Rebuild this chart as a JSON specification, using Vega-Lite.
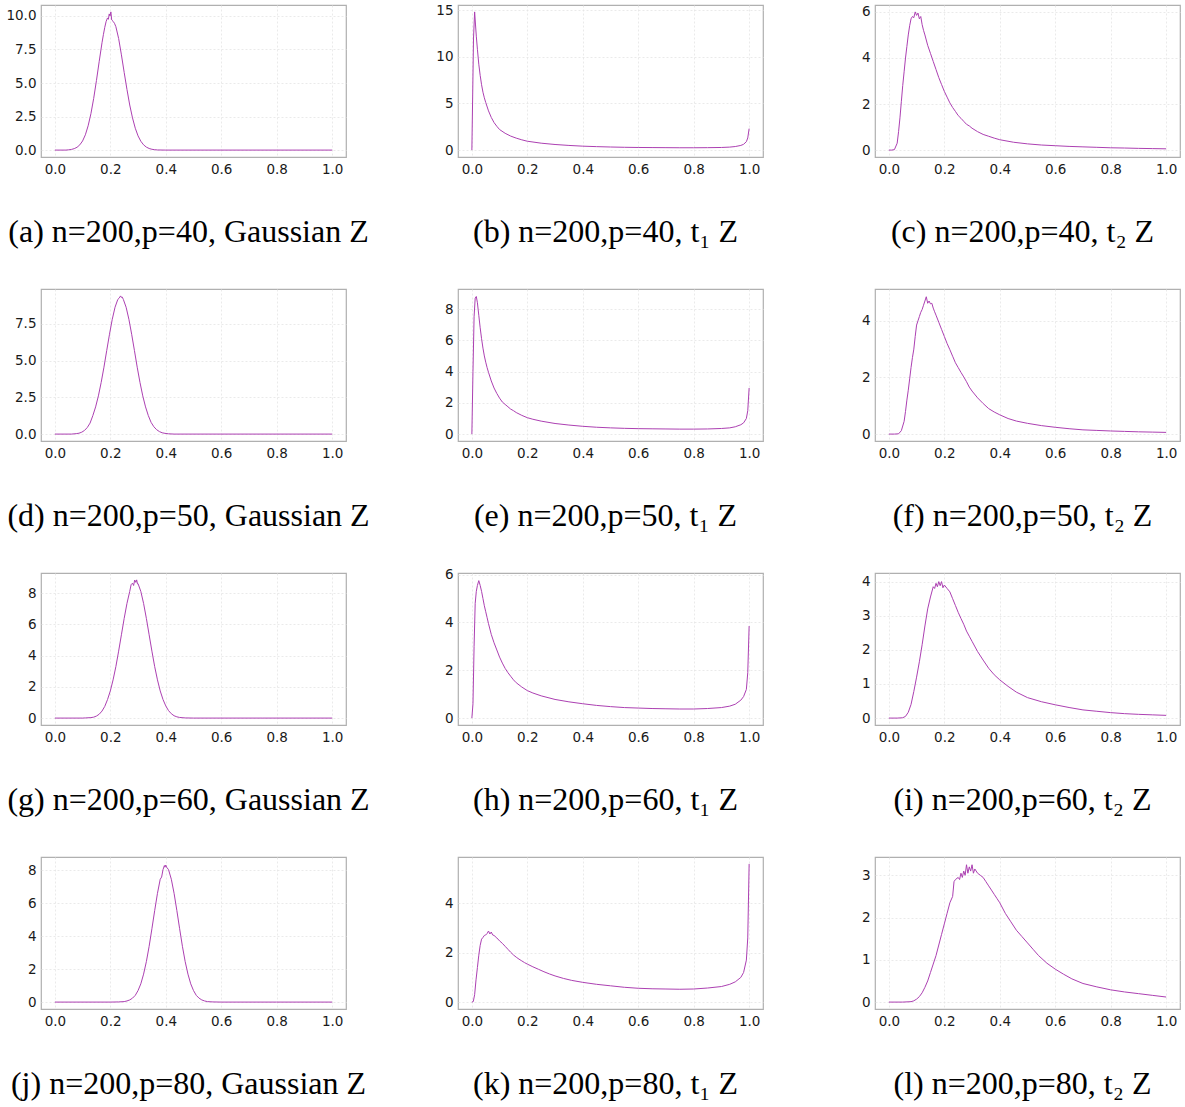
{
 "$schema": "https://vega.github.io/schema/vega-lite/v6.json",
 "background": "white",
 "padding": {"left": 5, "top": 2, "right": 0, "bottom": 0},
 "autosize": {"type": "pad"},
 "config": {
  "view": {"stroke": "#b0b0b0", "strokeWidth": 1.2},
  "axis": {"grid": true, "gridColor": "#e4e4e4", "gridDash": [2, 2], "gridWidth": 0.8, "ticks": false, "domain": false, "labelFont": "DejaVu Sans", "labelFontSize": 13.5, "labelColor": "#1a1a1a", "labelPadding": 5, "title": null},
  "axisX": {"labelFlush": false},
  "title": {"orient": "bottom", "anchor": "middle", "frame": "group", "font": "Liberation Serif", "fontSize": 32, "fontWeight": "normal", "color": "#000000", "offset": 41, "dx": -5},
  "line": {"color": "#ac40b2", "strokeWidth": 1}
 },
 "data": {"values": [
  {"p":"a","x":0,"y":0},{"p":"a","x":0.04,"y":0},{"p":"a","x":0.05,"y":0.02},{"p":"a","x":0.06,"y":0.05},{"p":"a","x":0.07,"y":0.11},{"p":"a","x":0.08,"y":0.21},{"p":"a","x":0.09,"y":0.39},{"p":"a","x":0.1,"y":0.68},{"p":"a","x":0.11,"y":1.14},{"p":"a","x":0.12,"y":1.81},{"p":"a","x":0.13,"y":2.71},{"p":"a","x":0.14,"y":3.85},{"p":"a","x":0.15,"y":5.19},{"p":"a","x":0.16,"y":6.62},{"p":"a","x":0.17,"y":8.0},{"p":"a","x":0.175,"y":8.6},{"p":"a","x":0.18,"y":9.15},{"p":"a","x":0.185,"y":9.6},{"p":"a","x":0.19,"y":9.85},{"p":"a","x":0.193,"y":9.75},{"p":"a","x":0.196,"y":10.15},{"p":"a","x":0.199,"y":10.0},{"p":"a","x":0.202,"y":10.3},{"p":"a","x":0.205,"y":9.7},{"p":"a","x":0.21,"y":9.6},{"p":"a","x":0.215,"y":9.45},{"p":"a","x":0.22,"y":9.2},{"p":"a","x":0.23,"y":8.32},{"p":"a","x":0.24,"y":7.1},{"p":"a","x":0.25,"y":5.79},{"p":"a","x":0.26,"y":4.52},{"p":"a","x":0.27,"y":3.36},{"p":"a","x":0.28,"y":2.4},{"p":"a","x":0.29,"y":1.63},{"p":"a","x":0.3,"y":1.06},{"p":"a","x":0.31,"y":0.66},{"p":"a","x":0.32,"y":0.39},{"p":"a","x":0.33,"y":0.22},{"p":"a","x":0.34,"y":0.12},{"p":"a","x":0.35,"y":0.06},{"p":"a","x":0.36,"y":0.03},{"p":"a","x":0.37,"y":0.01},{"p":"a","x":0.4,"y":0},{"p":"a","x":0.7,"y":0},{"p":"a","x":1.0,"y":0},

  {"p":"b","x":0,"y":0},{"p":"b","x":0.003,"y":6},{"p":"b","x":0.006,"y":12},{"p":"b","x":0.01,"y":14.8},{"p":"b","x":0.013,"y":13.5},{"p":"b","x":0.016,"y":12.2},{"p":"b","x":0.02,"y":10.8},{"p":"b","x":0.025,"y":9.2},{"p":"b","x":0.03,"y":8.0},{"p":"b","x":0.035,"y":7.0},{"p":"b","x":0.04,"y":6.2},{"p":"b","x":0.045,"y":5.6},{"p":"b","x":0.05,"y":5.1},{"p":"b","x":0.06,"y":4.2},{"p":"b","x":0.07,"y":3.5},{"p":"b","x":0.08,"y":2.95},{"p":"b","x":0.09,"y":2.55},{"p":"b","x":0.1,"y":2.2},{"p":"b","x":0.12,"y":1.8},{"p":"b","x":0.14,"y":1.5},{"p":"b","x":0.16,"y":1.28},{"p":"b","x":0.18,"y":1.1},{"p":"b","x":0.2,"y":0.95},{"p":"b","x":0.25,"y":0.74},{"p":"b","x":0.3,"y":0.6},{"p":"b","x":0.35,"y":0.5},{"p":"b","x":0.4,"y":0.42},{"p":"b","x":0.45,"y":0.37},{"p":"b","x":0.5,"y":0.33},{"p":"b","x":0.55,"y":0.3},{"p":"b","x":0.6,"y":0.28},{"p":"b","x":0.65,"y":0.27},{"p":"b","x":0.7,"y":0.26},{"p":"b","x":0.75,"y":0.25},{"p":"b","x":0.8,"y":0.25},{"p":"b","x":0.85,"y":0.26},{"p":"b","x":0.9,"y":0.28},{"p":"b","x":0.93,"y":0.32},{"p":"b","x":0.95,"y":0.38},{"p":"b","x":0.97,"y":0.5},{"p":"b","x":0.98,"y":0.62},{"p":"b","x":0.99,"y":0.9},{"p":"b","x":0.995,"y":1.3},{"p":"b","x":1.0,"y":2.3},

  {"p":"c","x":0,"y":0},{"p":"c","x":0.01,"y":0},{"p":"c","x":0.02,"y":0.02},{"p":"c","x":0.03,"y":0.3},{"p":"c","x":0.035,"y":0.8},{"p":"c","x":0.04,"y":1.4},{"p":"c","x":0.045,"y":2.1},{"p":"c","x":0.05,"y":2.8},{"p":"c","x":0.055,"y":3.4},{"p":"c","x":0.06,"y":4.0},{"p":"c","x":0.065,"y":4.5},{"p":"c","x":0.07,"y":5.0},{"p":"c","x":0.075,"y":5.4},{"p":"c","x":0.08,"y":5.7},{"p":"c","x":0.085,"y":5.8},{"p":"c","x":0.09,"y":5.75},{"p":"c","x":0.095,"y":6.0},{"p":"c","x":0.1,"y":5.85},{"p":"c","x":0.105,"y":5.95},{"p":"c","x":0.11,"y":5.7},{"p":"c","x":0.115,"y":5.8},{"p":"c","x":0.12,"y":5.45},{"p":"c","x":0.125,"y":5.2},{"p":"c","x":0.13,"y":5.0},{"p":"c","x":0.14,"y":4.55},{"p":"c","x":0.15,"y":4.2},{"p":"c","x":0.16,"y":3.85},{"p":"c","x":0.17,"y":3.5},{"p":"c","x":0.18,"y":3.15},{"p":"c","x":0.19,"y":2.85},{"p":"c","x":0.2,"y":2.55},{"p":"c","x":0.21,"y":2.3},{"p":"c","x":0.22,"y":2.05},{"p":"c","x":0.23,"y":1.85},{"p":"c","x":0.24,"y":1.68},{"p":"c","x":0.25,"y":1.5},{"p":"c","x":0.26,"y":1.38},{"p":"c","x":0.27,"y":1.25},{"p":"c","x":0.28,"y":1.12},{"p":"c","x":0.29,"y":1.05},{"p":"c","x":0.3,"y":0.95},{"p":"c","x":0.32,"y":0.8},{"p":"c","x":0.34,"y":0.68},{"p":"c","x":0.36,"y":0.6},{"p":"c","x":0.38,"y":0.52},{"p":"c","x":0.4,"y":0.45},{"p":"c","x":0.45,"y":0.34},{"p":"c","x":0.5,"y":0.27},{"p":"c","x":0.55,"y":0.22},{"p":"c","x":0.6,"y":0.19},{"p":"c","x":0.65,"y":0.16},{"p":"c","x":0.7,"y":0.14},{"p":"c","x":0.75,"y":0.12},{"p":"c","x":0.8,"y":0.1},{"p":"c","x":0.85,"y":0.09},{"p":"c","x":0.9,"y":0.075},{"p":"c","x":0.95,"y":0.065},{"p":"c","x":1.0,"y":0.055},

  {"p":"d","x":0,"y":0},{"p":"d","x":0.06,"y":0},{"p":"d","x":0.077,"y":0.03},{"p":"d","x":0.087,"y":0.06},{"p":"d","x":0.097,"y":0.13},{"p":"d","x":0.107,"y":0.25},{"p":"d","x":0.117,"y":0.45},{"p":"d","x":0.127,"y":0.75},{"p":"d","x":0.137,"y":1.26},{"p":"d","x":0.147,"y":1.85},{"p":"d","x":0.157,"y":2.6},{"p":"d","x":0.167,"y":3.51},{"p":"d","x":0.177,"y":4.55},{"p":"d","x":0.187,"y":5.68},{"p":"d","x":0.197,"y":6.79},{"p":"d","x":0.207,"y":7.81},{"p":"d","x":0.217,"y":8.63},{"p":"d","x":0.227,"y":9.16},{"p":"d","x":0.232,"y":9.25},{"p":"d","x":0.237,"y":9.4},{"p":"d","x":0.24,"y":9.3},{"p":"d","x":0.243,"y":9.32},{"p":"d","x":0.247,"y":9.16},{"p":"d","x":0.257,"y":8.63},{"p":"d","x":0.267,"y":7.81},{"p":"d","x":0.277,"y":6.79},{"p":"d","x":0.287,"y":5.68},{"p":"d","x":0.297,"y":4.55},{"p":"d","x":0.307,"y":3.51},{"p":"d","x":0.317,"y":2.6},{"p":"d","x":0.327,"y":1.85},{"p":"d","x":0.337,"y":1.26},{"p":"d","x":0.347,"y":0.8},{"p":"d","x":0.357,"y":0.5},{"p":"d","x":0.367,"y":0.3},{"p":"d","x":0.377,"y":0.17},{"p":"d","x":0.387,"y":0.09},{"p":"d","x":0.397,"y":0.05},{"p":"d","x":0.41,"y":0.02},{"p":"d","x":0.43,"y":0},{"p":"d","x":0.7,"y":0},{"p":"d","x":1.0,"y":0},

  {"p":"e","x":0,"y":0},{"p":"e","x":0.004,"y":4},{"p":"e","x":0.008,"y":7.5},{"p":"e","x":0.012,"y":8.7},{"p":"e","x":0.016,"y":8.8},{"p":"e","x":0.02,"y":8.4},{"p":"e","x":0.025,"y":7.6},{"p":"e","x":0.03,"y":6.8},{"p":"e","x":0.035,"y":6.1},{"p":"e","x":0.04,"y":5.5},{"p":"e","x":0.045,"y":5.0},{"p":"e","x":0.05,"y":4.6},{"p":"e","x":0.055,"y":4.25},{"p":"e","x":0.06,"y":3.95},{"p":"e","x":0.07,"y":3.4},{"p":"e","x":0.08,"y":2.95},{"p":"e","x":0.09,"y":2.6},{"p":"e","x":0.1,"y":2.3},{"p":"e","x":0.11,"y":2.05},{"p":"e","x":0.12,"y":1.9},{"p":"e","x":0.13,"y":1.75},{"p":"e","x":0.14,"y":1.6},{"p":"e","x":0.15,"y":1.5},{"p":"e","x":0.16,"y":1.38},{"p":"e","x":0.18,"y":1.2},{"p":"e","x":0.2,"y":1.05},{"p":"e","x":0.22,"y":0.95},{"p":"e","x":0.25,"y":0.83},{"p":"e","x":0.3,"y":0.68},{"p":"e","x":0.35,"y":0.58},{"p":"e","x":0.4,"y":0.5},{"p":"e","x":0.45,"y":0.44},{"p":"e","x":0.5,"y":0.4},{"p":"e","x":0.55,"y":0.37},{"p":"e","x":0.6,"y":0.35},{"p":"e","x":0.65,"y":0.34},{"p":"e","x":0.7,"y":0.33},{"p":"e","x":0.75,"y":0.32},{"p":"e","x":0.8,"y":0.32},{"p":"e","x":0.85,"y":0.33},{"p":"e","x":0.9,"y":0.36},{"p":"e","x":0.93,"y":0.4},{"p":"e","x":0.95,"y":0.47},{"p":"e","x":0.97,"y":0.6},{"p":"e","x":0.98,"y":0.72},{"p":"e","x":0.99,"y":1.0},{"p":"e","x":0.995,"y":1.5},{"p":"e","x":1.0,"y":2.95},

  {"p":"f","x":0,"y":0},{"p":"f","x":0.02,"y":0},{"p":"f","x":0.035,"y":0.01},{"p":"f","x":0.045,"y":0.12},{"p":"f","x":0.055,"y":0.45},{"p":"f","x":0.06,"y":0.8},{"p":"f","x":0.065,"y":1.2},{"p":"f","x":0.07,"y":1.55},{"p":"f","x":0.075,"y":1.95},{"p":"f","x":0.08,"y":2.35},{"p":"f","x":0.085,"y":2.7},{"p":"f","x":0.09,"y":3.0},{"p":"f","x":0.095,"y":3.45},{"p":"f","x":0.1,"y":3.85},{"p":"f","x":0.105,"y":4.0},{"p":"f","x":0.11,"y":4.15},{"p":"f","x":0.115,"y":4.3},{"p":"f","x":0.12,"y":4.4},{"p":"f","x":0.125,"y":4.55},{"p":"f","x":0.13,"y":4.7},{"p":"f","x":0.135,"y":4.85},{"p":"f","x":0.14,"y":4.62},{"p":"f","x":0.145,"y":4.7},{"p":"f","x":0.15,"y":4.6},{"p":"f","x":0.155,"y":4.62},{"p":"f","x":0.16,"y":4.45},{"p":"f","x":0.165,"y":4.32},{"p":"f","x":0.17,"y":4.2},{"p":"f","x":0.18,"y":3.95},{"p":"f","x":0.19,"y":3.7},{"p":"f","x":0.2,"y":3.45},{"p":"f","x":0.21,"y":3.2},{"p":"f","x":0.22,"y":2.98},{"p":"f","x":0.23,"y":2.75},{"p":"f","x":0.24,"y":2.52},{"p":"f","x":0.25,"y":2.35},{"p":"f","x":0.26,"y":2.18},{"p":"f","x":0.27,"y":2.02},{"p":"f","x":0.28,"y":1.85},{"p":"f","x":0.29,"y":1.66},{"p":"f","x":0.3,"y":1.52},{"p":"f","x":0.32,"y":1.28},{"p":"f","x":0.34,"y":1.08},{"p":"f","x":0.36,"y":0.9},{"p":"f","x":0.38,"y":0.78},{"p":"f","x":0.4,"y":0.68},{"p":"f","x":0.43,"y":0.55},{"p":"f","x":0.46,"y":0.46},{"p":"f","x":0.5,"y":0.38},{"p":"f","x":0.55,"y":0.3},{"p":"f","x":0.6,"y":0.24},{"p":"f","x":0.65,"y":0.19},{"p":"f","x":0.7,"y":0.15},{"p":"f","x":0.75,"y":0.13},{"p":"f","x":0.8,"y":0.11},{"p":"f","x":0.85,"y":0.095},{"p":"f","x":0.9,"y":0.08},{"p":"f","x":0.95,"y":0.07},{"p":"f","x":1.0,"y":0.06},

  {"p":"g","x":0,"y":0},{"p":"g","x":0.1,"y":0},{"p":"g","x":0.11,"y":0.01},{"p":"g","x":0.13,"y":0.03},{"p":"g","x":0.14,"y":0.06},{"p":"g","x":0.15,"y":0.13},{"p":"g","x":0.16,"y":0.25},{"p":"g","x":0.17,"y":0.45},{"p":"g","x":0.18,"y":0.75},{"p":"g","x":0.19,"y":1.19},{"p":"g","x":0.2,"y":1.74},{"p":"g","x":0.21,"y":2.45},{"p":"g","x":0.22,"y":3.3},{"p":"g","x":0.23,"y":4.29},{"p":"g","x":0.24,"y":5.34},{"p":"g","x":0.25,"y":6.39},{"p":"g","x":0.26,"y":7.35},{"p":"g","x":0.27,"y":8.12},{"p":"g","x":0.275,"y":8.55},{"p":"g","x":0.28,"y":8.65},{"p":"g","x":0.284,"y":8.5},{"p":"g","x":0.288,"y":8.85},{"p":"g","x":0.292,"y":8.7},{"p":"g","x":0.295,"y":8.86},{"p":"g","x":0.298,"y":8.6},{"p":"g","x":0.3,"y":8.62},{"p":"g","x":0.31,"y":8.12},{"p":"g","x":0.32,"y":7.35},{"p":"g","x":0.33,"y":6.39},{"p":"g","x":0.34,"y":5.34},{"p":"g","x":0.35,"y":4.29},{"p":"g","x":0.36,"y":3.3},{"p":"g","x":0.37,"y":2.45},{"p":"g","x":0.38,"y":1.74},{"p":"g","x":0.39,"y":1.19},{"p":"g","x":0.4,"y":0.78},{"p":"g","x":0.41,"y":0.48},{"p":"g","x":0.42,"y":0.28},{"p":"g","x":0.43,"y":0.15},{"p":"g","x":0.44,"y":0.08},{"p":"g","x":0.45,"y":0.04},{"p":"g","x":0.47,"y":0.01},{"p":"g","x":0.5,"y":0},{"p":"g","x":0.75,"y":0},{"p":"g","x":1.0,"y":0},

  {"p":"h","x":0,"y":0},{"p":"h","x":0.004,"y":0.6},{"p":"h","x":0.008,"y":3.0},{"p":"h","x":0.012,"y":4.8},{"p":"h","x":0.016,"y":5.3},{"p":"h","x":0.02,"y":5.55},{"p":"h","x":0.025,"y":5.75},{"p":"h","x":0.03,"y":5.55},{"p":"h","x":0.035,"y":5.3},{"p":"h","x":0.04,"y":5.0},{"p":"h","x":0.045,"y":4.7},{"p":"h","x":0.05,"y":4.45},{"p":"h","x":0.055,"y":4.2},{"p":"h","x":0.06,"y":3.95},{"p":"h","x":0.07,"y":3.5},{"p":"h","x":0.08,"y":3.15},{"p":"h","x":0.09,"y":2.85},{"p":"h","x":0.1,"y":2.55},{"p":"h","x":0.11,"y":2.3},{"p":"h","x":0.12,"y":2.08},{"p":"h","x":0.13,"y":1.9},{"p":"h","x":0.14,"y":1.75},{"p":"h","x":0.15,"y":1.6},{"p":"h","x":0.16,"y":1.48},{"p":"h","x":0.18,"y":1.3},{"p":"h","x":0.2,"y":1.15},{"p":"h","x":0.22,"y":1.05},{"p":"h","x":0.25,"y":0.93},{"p":"h","x":0.3,"y":0.78},{"p":"h","x":0.35,"y":0.68},{"p":"h","x":0.4,"y":0.6},{"p":"h","x":0.45,"y":0.53},{"p":"h","x":0.5,"y":0.48},{"p":"h","x":0.55,"y":0.44},{"p":"h","x":0.6,"y":0.42},{"p":"h","x":0.65,"y":0.4},{"p":"h","x":0.7,"y":0.39},{"p":"h","x":0.75,"y":0.38},{"p":"h","x":0.8,"y":0.38},{"p":"h","x":0.85,"y":0.4},{"p":"h","x":0.9,"y":0.44},{"p":"h","x":0.93,"y":0.5},{"p":"h","x":0.95,"y":0.58},{"p":"h","x":0.97,"y":0.75},{"p":"h","x":0.98,"y":0.9},{"p":"h","x":0.99,"y":1.2},{"p":"h","x":0.995,"y":1.9},{"p":"h","x":1.0,"y":3.85},

  {"p":"i","x":0,"y":0},{"p":"i","x":0.03,"y":0},{"p":"i","x":0.05,"y":0.01},{"p":"i","x":0.06,"y":0.05},{"p":"i","x":0.07,"y":0.17},{"p":"i","x":0.08,"y":0.4},{"p":"i","x":0.09,"y":0.78},{"p":"i","x":0.1,"y":1.2},{"p":"i","x":0.11,"y":1.65},{"p":"i","x":0.12,"y":2.15},{"p":"i","x":0.13,"y":2.7},{"p":"i","x":0.14,"y":3.2},{"p":"i","x":0.15,"y":3.55},{"p":"i","x":0.16,"y":3.85},{"p":"i","x":0.165,"y":3.8},{"p":"i","x":0.17,"y":3.95},{"p":"i","x":0.175,"y":3.85},{"p":"i","x":0.18,"y":4.0},{"p":"i","x":0.185,"y":3.88},{"p":"i","x":0.19,"y":4.0},{"p":"i","x":0.195,"y":3.82},{"p":"i","x":0.2,"y":3.9},{"p":"i","x":0.21,"y":3.8},{"p":"i","x":0.22,"y":3.7},{"p":"i","x":0.23,"y":3.5},{"p":"i","x":0.24,"y":3.3},{"p":"i","x":0.25,"y":3.1},{"p":"i","x":0.26,"y":2.92},{"p":"i","x":0.27,"y":2.75},{"p":"i","x":0.28,"y":2.55},{"p":"i","x":0.29,"y":2.4},{"p":"i","x":0.3,"y":2.25},{"p":"i","x":0.32,"y":1.95},{"p":"i","x":0.34,"y":1.7},{"p":"i","x":0.36,"y":1.46},{"p":"i","x":0.38,"y":1.27},{"p":"i","x":0.4,"y":1.12},{"p":"i","x":0.43,"y":0.93},{"p":"i","x":0.46,"y":0.76},{"p":"i","x":0.5,"y":0.6},{"p":"i","x":0.55,"y":0.48},{"p":"i","x":0.6,"y":0.39},{"p":"i","x":0.65,"y":0.31},{"p":"i","x":0.7,"y":0.24},{"p":"i","x":0.75,"y":0.2},{"p":"i","x":0.8,"y":0.16},{"p":"i","x":0.85,"y":0.13},{"p":"i","x":0.9,"y":0.11},{"p":"i","x":0.95,"y":0.095},{"p":"i","x":1.0,"y":0.08},

  {"p":"j","x":0,"y":0},{"p":"j","x":0.2,"y":0},{"p":"j","x":0.23,"y":0.01},{"p":"j","x":0.25,"y":0.03},{"p":"j","x":0.26,"y":0.07},{"p":"j","x":0.27,"y":0.13},{"p":"j","x":0.28,"y":0.24},{"p":"j","x":0.29,"y":0.41},{"p":"j","x":0.3,"y":0.7},{"p":"j","x":0.31,"y":1.11},{"p":"j","x":0.32,"y":1.7},{"p":"j","x":0.33,"y":2.46},{"p":"j","x":0.34,"y":3.39},{"p":"j","x":0.35,"y":4.46},{"p":"j","x":0.36,"y":5.56},{"p":"j","x":0.37,"y":6.61},{"p":"j","x":0.38,"y":7.47},{"p":"j","x":0.385,"y":7.6},{"p":"j","x":0.39,"y":8.05},{"p":"j","x":0.392,"y":8.15},{"p":"j","x":0.395,"y":8.3},{"p":"j","x":0.397,"y":8.2},{"p":"j","x":0.4,"y":8.33},{"p":"j","x":0.403,"y":8.2},{"p":"j","x":0.41,"y":8.05},{"p":"j","x":0.42,"y":7.47},{"p":"j","x":0.43,"y":6.61},{"p":"j","x":0.44,"y":5.56},{"p":"j","x":0.45,"y":4.46},{"p":"j","x":0.46,"y":3.39},{"p":"j","x":0.47,"y":2.46},{"p":"j","x":0.48,"y":1.7},{"p":"j","x":0.49,"y":1.11},{"p":"j","x":0.5,"y":0.7},{"p":"j","x":0.51,"y":0.41},{"p":"j","x":0.52,"y":0.24},{"p":"j","x":0.53,"y":0.13},{"p":"j","x":0.54,"y":0.07},{"p":"j","x":0.55,"y":0.03},{"p":"j","x":0.57,"y":0.01},{"p":"j","x":0.6,"y":0},{"p":"j","x":0.8,"y":0},{"p":"j","x":1.0,"y":0},

  {"p":"k","x":0,"y":0},{"p":"k","x":0.005,"y":0.02},{"p":"k","x":0.01,"y":0.3},{"p":"k","x":0.015,"y":0.9},{"p":"k","x":0.02,"y":1.4},{"p":"k","x":0.025,"y":1.9},{"p":"k","x":0.03,"y":2.3},{"p":"k","x":0.035,"y":2.55},{"p":"k","x":0.04,"y":2.62},{"p":"k","x":0.045,"y":2.7},{"p":"k","x":0.05,"y":2.72},{"p":"k","x":0.055,"y":2.78},{"p":"k","x":0.06,"y":2.88},{"p":"k","x":0.065,"y":2.76},{"p":"k","x":0.07,"y":2.84},{"p":"k","x":0.075,"y":2.72},{"p":"k","x":0.08,"y":2.7},{"p":"k","x":0.09,"y":2.6},{"p":"k","x":0.1,"y":2.48},{"p":"k","x":0.11,"y":2.38},{"p":"k","x":0.12,"y":2.26},{"p":"k","x":0.13,"y":2.14},{"p":"k","x":0.14,"y":2.02},{"p":"k","x":0.15,"y":1.91},{"p":"k","x":0.16,"y":1.82},{"p":"k","x":0.17,"y":1.74},{"p":"k","x":0.18,"y":1.67},{"p":"k","x":0.19,"y":1.6},{"p":"k","x":0.2,"y":1.54},{"p":"k","x":0.22,"y":1.43},{"p":"k","x":0.24,"y":1.33},{"p":"k","x":0.26,"y":1.23},{"p":"k","x":0.28,"y":1.14},{"p":"k","x":0.3,"y":1.06},{"p":"k","x":0.33,"y":0.96},{"p":"k","x":0.36,"y":0.88},{"p":"k","x":0.4,"y":0.8},{"p":"k","x":0.45,"y":0.72},{"p":"k","x":0.5,"y":0.66},{"p":"k","x":0.55,"y":0.6},{"p":"k","x":0.6,"y":0.56},{"p":"k","x":0.65,"y":0.54},{"p":"k","x":0.7,"y":0.53},{"p":"k","x":0.75,"y":0.52},{"p":"k","x":0.8,"y":0.53},{"p":"k","x":0.85,"y":0.57},{"p":"k","x":0.9,"y":0.63},{"p":"k","x":0.93,"y":0.72},{"p":"k","x":0.95,"y":0.82},{"p":"k","x":0.97,"y":1.0},{"p":"k","x":0.98,"y":1.2},{"p":"k","x":0.99,"y":1.7},{"p":"k","x":0.995,"y":2.6},{"p":"k","x":1.0,"y":5.6},

  {"p":"l","x":0,"y":0},{"p":"l","x":0.05,"y":0},{"p":"l","x":0.08,"y":0.01},{"p":"l","x":0.09,"y":0.03},{"p":"l","x":0.1,"y":0.07},{"p":"l","x":0.11,"y":0.13},{"p":"l","x":0.12,"y":0.22},{"p":"l","x":0.13,"y":0.35},{"p":"l","x":0.14,"y":0.5},{"p":"l","x":0.15,"y":0.7},{"p":"l","x":0.16,"y":0.9},{"p":"l","x":0.17,"y":1.1},{"p":"l","x":0.18,"y":1.35},{"p":"l","x":0.19,"y":1.6},{"p":"l","x":0.2,"y":1.85},{"p":"l","x":0.21,"y":2.1},{"p":"l","x":0.22,"y":2.35},{"p":"l","x":0.23,"y":2.5},{"p":"l","x":0.235,"y":2.85},{"p":"l","x":0.24,"y":2.9},{"p":"l","x":0.25,"y":2.95},{"p":"l","x":0.255,"y":2.9},{"p":"l","x":0.26,"y":3.05},{"p":"l","x":0.265,"y":2.95},{"p":"l","x":0.27,"y":3.1},{"p":"l","x":0.275,"y":3.0},{"p":"l","x":0.28,"y":3.25},{"p":"l","x":0.285,"y":3.05},{"p":"l","x":0.29,"y":3.2},{"p":"l","x":0.295,"y":3.1},{"p":"l","x":0.3,"y":3.25},{"p":"l","x":0.305,"y":3.05},{"p":"l","x":0.31,"y":3.15},{"p":"l","x":0.32,"y":3.05},{"p":"l","x":0.33,"y":3.0},{"p":"l","x":0.34,"y":2.95},{"p":"l","x":0.35,"y":2.85},{"p":"l","x":0.36,"y":2.75},{"p":"l","x":0.37,"y":2.65},{"p":"l","x":0.38,"y":2.55},{"p":"l","x":0.39,"y":2.45},{"p":"l","x":0.4,"y":2.35},{"p":"l","x":0.42,"y":2.1},{"p":"l","x":0.44,"y":1.9},{"p":"l","x":0.46,"y":1.7},{"p":"l","x":0.48,"y":1.55},{"p":"l","x":0.5,"y":1.4},{"p":"l","x":0.52,"y":1.25},{"p":"l","x":0.54,"y":1.1},{"p":"l","x":0.57,"y":0.92},{"p":"l","x":0.6,"y":0.78},{"p":"l","x":0.63,"y":0.66},{"p":"l","x":0.66,"y":0.55},{"p":"l","x":0.7,"y":0.44},{"p":"l","x":0.75,"y":0.36},{"p":"l","x":0.8,"y":0.29},{"p":"l","x":0.85,"y":0.24},{"p":"l","x":0.9,"y":0.2},{"p":"l","x":0.95,"y":0.16},{"p":"l","x":1.0,"y":0.12}
 ]},
 "columns": 3,
 "spacing": {"row": 132, "column": 112},
 "bounds": "flush",
 "concat": [
  {"width": 305, "height": 152, "transform": [{"filter": "datum.p == 'a'"}], "title": {"text": "(a) n=200,p=40, Gaussian Z"}, "mark": "line",
   "encoding": {"x": {"field": "x", "type": "quantitative", "scale": {"domain": [-0.05, 1.05], "nice": false, "zero": false}, "axis": {"values": [0, 0.2, 0.4, 0.6, 0.8, 1.0], "format": ".1f"}},
                "y": {"field": "y", "type": "quantitative", "scale": {"domain": [-0.515, 10.815], "nice": false, "zero": false}, "axis": {"values": [0, 2.5, 5, 7.5, 10], "format": ".1f"}}}},
  {"width": 305, "height": 152, "transform": [{"filter": "datum.p == 'b'"}], "title": {"text": "(b) n=200,p=40, t₁ Z"}, "mark": "line",
   "encoding": {"x": {"field": "x", "type": "quantitative", "scale": {"domain": [-0.05, 1.05], "nice": false, "zero": false}, "axis": {"values": [0, 0.2, 0.4, 0.6, 0.8, 1.0], "format": ".1f"}},
                "y": {"field": "y", "type": "quantitative", "scale": {"domain": [-0.74, 15.54], "nice": false, "zero": false}, "axis": {"values": [0, 5, 10, 15], "format": "d"}}}},
  {"width": 305, "height": 152, "transform": [{"filter": "datum.p == 'c'"}], "title": {"text": "(c) n=200,p=40, t₂ Z"}, "mark": "line",
   "encoding": {"x": {"field": "x", "type": "quantitative", "scale": {"domain": [-0.05, 1.05], "nice": false, "zero": false}, "axis": {"values": [0, 0.2, 0.4, 0.6, 0.8, 1.0], "format": ".1f"}},
                "y": {"field": "y", "type": "quantitative", "scale": {"domain": [-0.3, 6.3], "nice": false, "zero": false}, "axis": {"values": [0, 2, 4, 6], "format": "d"}}}},
  {"width": 305, "height": 152, "transform": [{"filter": "datum.p == 'd'"}], "title": {"text": "(d) n=200,p=50, Gaussian Z"}, "mark": "line",
   "encoding": {"x": {"field": "x", "type": "quantitative", "scale": {"domain": [-0.05, 1.05], "nice": false, "zero": false}, "axis": {"values": [0, 0.2, 0.4, 0.6, 0.8, 1.0], "format": ".1f"}},
                "y": {"field": "y", "type": "quantitative", "scale": {"domain": [-0.47, 9.87], "nice": false, "zero": false}, "axis": {"values": [0, 2.5, 5, 7.5], "format": ".1f"}}}},
  {"width": 305, "height": 152, "transform": [{"filter": "datum.p == 'e'"}], "title": {"text": "(e) n=200,p=50, t₁ Z"}, "mark": "line",
   "encoding": {"x": {"field": "x", "type": "quantitative", "scale": {"domain": [-0.05, 1.05], "nice": false, "zero": false}, "axis": {"values": [0, 0.2, 0.4, 0.6, 0.8, 1.0], "format": ".1f"}},
                "y": {"field": "y", "type": "quantitative", "scale": {"domain": [-0.44, 9.28], "nice": false, "zero": false}, "axis": {"values": [0, 2, 4, 6, 8], "format": "d"}}}},
  {"width": 305, "height": 152, "transform": [{"filter": "datum.p == 'f'"}], "title": {"text": "(f) n=200,p=50, t₂ Z"}, "mark": "line",
   "encoding": {"x": {"field": "x", "type": "quantitative", "scale": {"domain": [-0.05, 1.05], "nice": false, "zero": false}, "axis": {"values": [0, 0.2, 0.4, 0.6, 0.8, 1.0], "format": ".1f"}},
                "y": {"field": "y", "type": "quantitative", "scale": {"domain": [-0.244, 5.124], "nice": false, "zero": false}, "axis": {"values": [0, 2, 4], "format": "d"}}}},
  {"width": 305, "height": 152, "transform": [{"filter": "datum.p == 'g'"}], "title": {"text": "(g) n=200,p=60, Gaussian Z"}, "mark": "line",
   "encoding": {"x": {"field": "x", "type": "quantitative", "scale": {"domain": [-0.05, 1.05], "nice": false, "zero": false}, "axis": {"values": [0, 0.2, 0.4, 0.6, 0.8, 1.0], "format": ".1f"}},
                "y": {"field": "y", "type": "quantitative", "scale": {"domain": [-0.443, 9.3], "nice": false, "zero": false}, "axis": {"values": [0, 2, 4, 6, 8], "format": "d"}}}},
  {"width": 305, "height": 152, "transform": [{"filter": "datum.p == 'h'"}], "title": {"text": "(h) n=200,p=60, t₁ Z"}, "mark": "line",
   "encoding": {"x": {"field": "x", "type": "quantitative", "scale": {"domain": [-0.05, 1.05], "nice": false, "zero": false}, "axis": {"values": [0, 0.2, 0.4, 0.6, 0.8, 1.0], "format": ".1f"}},
                "y": {"field": "y", "type": "quantitative", "scale": {"domain": [-0.289, 6.069], "nice": false, "zero": false}, "axis": {"values": [0, 2, 4, 6], "format": "d"}}}},
  {"width": 305, "height": 152, "transform": [{"filter": "datum.p == 'i'"}], "title": {"text": "(i) n=200,p=60, t₂ Z"}, "mark": "line",
   "encoding": {"x": {"field": "x", "type": "quantitative", "scale": {"domain": [-0.05, 1.05], "nice": false, "zero": false}, "axis": {"values": [0, 0.2, 0.4, 0.6, 0.8, 1.0], "format": ".1f"}},
                "y": {"field": "y", "type": "quantitative", "scale": {"domain": [-0.2025, 4.2525], "nice": false, "zero": false}, "axis": {"values": [0, 1, 2, 3, 4], "format": "d"}}}},
  {"width": 305, "height": 152, "transform": [{"filter": "datum.p == 'j'"}], "title": {"text": "(j) n=200,p=80, Gaussian Z"}, "mark": "line",
   "encoding": {"x": {"field": "x", "type": "quantitative", "scale": {"domain": [-0.05, 1.05], "nice": false, "zero": false}, "axis": {"values": [0, 0.2, 0.4, 0.6, 0.8, 1.0], "format": ".1f"}},
                "y": {"field": "y", "type": "quantitative", "scale": {"domain": [-0.42, 8.82], "nice": false, "zero": false}, "axis": {"values": [0, 2, 4, 6, 8], "format": "d"}}}},
  {"width": 305, "height": 152, "transform": [{"filter": "datum.p == 'k'"}], "title": {"text": "(k) n=200,p=80, t₁ Z"}, "mark": "line",
   "encoding": {"x": {"field": "x", "type": "quantitative", "scale": {"domain": [-0.05, 1.05], "nice": false, "zero": false}, "axis": {"values": [0, 0.2, 0.4, 0.6, 0.8, 1.0], "format": ".1f"}},
                "y": {"field": "y", "type": "quantitative", "scale": {"domain": [-0.28, 5.88], "nice": false, "zero": false}, "axis": {"values": [0, 2, 4], "format": "d"}}}},
  {"width": 305, "height": 152, "transform": [{"filter": "datum.p == 'l'"}], "title": {"text": "(l) n=200,p=80, t₂ Z"}, "mark": "line",
   "encoding": {"x": {"field": "x", "type": "quantitative", "scale": {"domain": [-0.05, 1.05], "nice": false, "zero": false}, "axis": {"values": [0, 0.2, 0.4, 0.6, 0.8, 1.0], "format": ".1f"}},
                "y": {"field": "y", "type": "quantitative", "scale": {"domain": [-0.1635, 3.4335], "nice": false, "zero": false}, "axis": {"values": [0, 1, 2, 3], "format": "d"}}}}
 ]
}
